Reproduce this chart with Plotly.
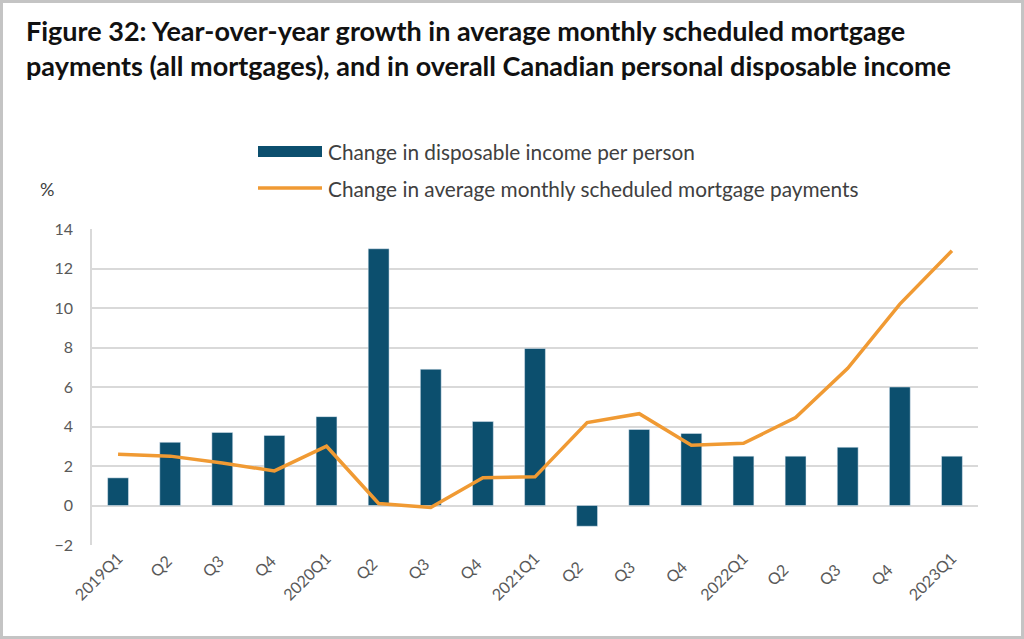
import plotly.graph_objects as go

categories = ["2019Q1", "Q2 ", "Q3 ", "Q4 ", "2020Q1", "Q2  ", "Q3  ", "Q4  ", "2021Q1",
              "Q2   ", "Q3   ", "Q4   ", "2022Q1", "Q2    ", "Q3    ", "Q4    ", "2023Q1"]
income_change = [1.4, 3.2, 3.7, 3.55, 4.5, 13.0, 6.9, 4.25, 7.95,
                 -1.05, 3.85, 3.65, 2.5, 2.5, 2.95, 6.0, 2.5]
mortgage_change = [2.6, 2.5, 2.15, 1.75, 3.0, 0.1, -0.1, 1.4, 1.45,
                   4.2, 4.65, 3.05, 3.15, 4.45, 6.95, 10.2, 12.9]
y_ticks = [-2, 0, 2, 4, 6, 8, 10, 12, 14]

BAR_COLOR = "#0c4f6e"
LINE_COLOR = "#f09a33"
FONT = "Lato"
TXT = "#404040"

W, H = 1024, 639
ML, MR, MT, MB = 92, 46, 229, 94
PW, PH = W - ML - MR, H - MT - MB

def px(x):
    return (x - ML) / PW

def py(y):
    return (H - MB - y) / PH

fig = go.Figure()
fig.add_trace(go.Bar(x=categories, y=income_change, marker_color=BAR_COLOR,
                     width=0.4, name="Change in disposable income per person",
                     showlegend=False))
fig.add_trace(go.Scatter(x=categories, y=mortgage_change, mode="lines",
                         line=dict(color=LINE_COLOR, width=3.5),
                         name="Change in average monthly scheduled mortgage payments",
                         showlegend=False))

shapes = [
    # legend swatches
    dict(type="rect", xref="paper", yref="paper", x0=px(258), x1=px(322),
         y0=py(157), y1=py(146), fillcolor=BAR_COLOR, line=dict(width=0)),
    dict(type="line", xref="paper", yref="paper", x0=px(258), x1=px(322),
         y0=py(188), y1=py(188), line=dict(color=LINE_COLOR, width=3.5)),
    # outer frame
    dict(type="rect", xref="paper", yref="paper", x0=px(1.5), x1=px(W - 1.5),
         y0=py(H - 1.5), y1=py(1.5), line=dict(color="#c4c4c4", width=3),
         fillcolor="rgba(0,0,0,0)", layer="above"),
]

annotations = [
    dict(text="<b>Figure 32: Year-over-year growth in average monthly scheduled mortgage<br>"
              "payments (all mortgages), and in overall Canadian personal disposable income</b>",
         xref="paper", yref="paper", x=px(24), y=py(12), xanchor="left", yanchor="top",
         align="left", showarrow=False,
         font=dict(family=FONT, size=27, color="#111111")),
    dict(text="Change in disposable income per person", xref="paper", yref="paper",
         x=px(326), y=py(151), xanchor="left", yanchor="middle", showarrow=False,
         font=dict(family=FONT, size=20.8, color=TXT)),
    dict(text="Change in average monthly scheduled mortgage payments", xref="paper", yref="paper",
         x=px(326), y=py(188), xanchor="left", yanchor="middle", showarrow=False,
         font=dict(family=FONT, size=20.8, color=TXT)),
    dict(text="%", xref="paper", yref="paper", x=px(47), y=py(189),
         xanchor="center", yanchor="middle", showarrow=False,
         font=dict(family=FONT, size=18, color=TXT)),
]

fig.update_layout(
    width=W, height=H,
    margin=dict(l=ML, r=MR, t=MT, b=MB),
    paper_bgcolor="white", plot_bgcolor="white",
    shapes=shapes, annotations=annotations,
    bargap=0.6,
    font=dict(family=FONT, color="#595959"),
)
fig.update_xaxes(tickangle=-45, tickfont=dict(family=FONT, size=16, color="#595959"),
                 showgrid=False, showline=False, ticks="", range=[-0.5, 16.5])
fig.update_yaxes(range=[-2, 14], tickvals=y_ticks, showgrid=True, gridcolor="#d9d9d9",
                 gridwidth=1.5, zeroline=False, showline=True, linecolor="#d9d9d9",
                 linewidth=1.5, ticks="", ticklabelstandoff=14,
                 tickfont=dict(family=FONT, size=16, color="#595959"))

fig.write_html("out.html")
